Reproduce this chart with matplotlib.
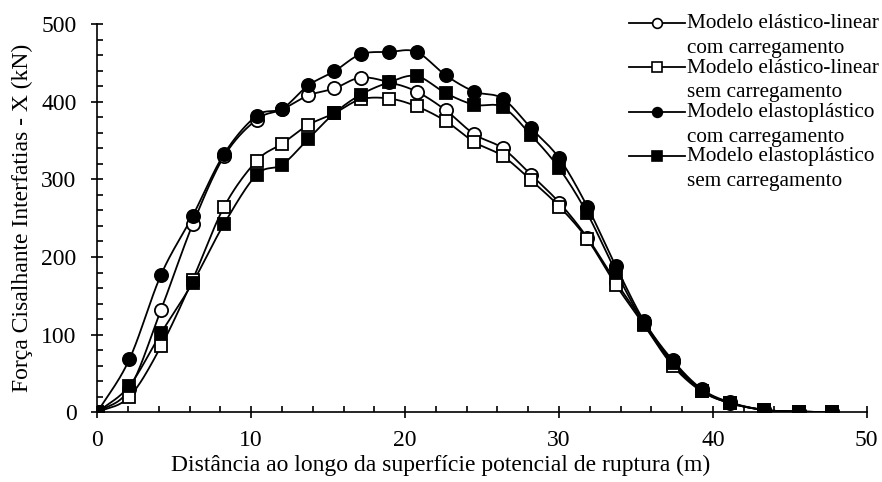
import numpy as np
import matplotlib
matplotlib.use("Agg")
import matplotlib.pyplot as plt
from matplotlib.ticker import MultipleLocator
from matplotlib.lines import Line2D

# Slice positions along the potential failure surface (m)
distancia = [0.0, 2.08, 4.14, 6.2, 8.25, 10.36, 12.02, 13.71, 15.4, 17.11, 18.97,
             20.75, 22.64, 24.5, 26.34, 28.18, 30.02, 31.84, 33.7, 35.54, 37.39,
             39.27, 41.1, 43.35, 45.6, 47.75]

# Interslice shear force X (kN)
elastico_com = [0, 30, 132, 242, 330, 377, 390, 408, 417, 431, 425,
                413, 389, 358, 340, 306, 270, 225, 168, 115, 65,
                29, 12, 3, 1, 0]
elastico_sem = [0, 20, 85, 171, 265, 324, 346, 370, 385, 403, 404,
                394, 375, 348, 330, 299, 265, 223, 164, 112, 60,
                27, 12, 3, 1, 0]
elastoplastico_com = [0, 68, 177, 253, 333, 382, 391, 421, 439, 461, 464,
                      464, 434, 413, 404, 366, 327, 265, 188, 117, 67,
                      30, 13, 3, 1, 0]
elastoplastico_sem = [0, 34, 102, 167, 243, 306, 319, 352, 385, 409, 425,
                      433, 411, 396, 393, 357, 314, 256, 181, 114, 63,
                      28, 12, 3, 1, 0]

rotulos = [("Modelo elástico-linear", "com carregamento"),
           ("Modelo elástico-linear", "sem carregamento"),
           ("Modelo elastoplástico", "com carregamento"),
           ("Modelo elastoplástico", "sem carregamento")]

plt.rcParams["font.family"] = ["Liberation Serif", "DejaVu Serif"]


def suavizar(x, y, n=20):
    """Catmull-Rom curve through the points, for a smoothed line."""
    x = np.asarray(x, float)
    y = np.asarray(y, float)
    px = np.concatenate([[2 * x[0] - x[1]], x, [2 * x[-1] - x[-2]]])
    py = np.concatenate([[2 * y[0] - y[1]], y, [2 * y[-1] - y[-2]]])
    xs, ys = [], []
    t = np.linspace(0, 1, n, endpoint=False)
    for i in range(1, len(px) - 2):
        p0x, p1x, p2x, p3x = px[i - 1:i + 3]
        p0y, p1y, p2y, p3y = py[i - 1:i + 3]
        for a0, a1, a2, a3, out in ((p0x, p1x, p2x, p3x, xs), (p0y, p1y, p2y, p3y, ys)):
            out.extend(0.5 * ((2 * a1) + (-a0 + a2) * t +
                              (2 * a0 - 5 * a1 + 4 * a2 - a3) * t ** 2 +
                              (-a0 + 3 * a1 - 3 * a2 + a3) * t ** 3))
    xs.append(x[-1])
    ys.append(y[-1])
    return np.array(xs), np.array(ys)


W, H = 882, 482
fig = plt.figure(figsize=(W / 100, H / 100), dpi=100)
ax = fig.add_axes([0.1103, 0.1446, 0.8724, 0.8056])

series = [
    (elastico_com, "o", "white"),
    (elastico_sem, "s", "white"),
    (elastoplastico_com, "o", "black"),
    (elastoplastico_sem, "s", "black"),
]

lw = 1.3
for valores, marcador, preench in series:
    sx, sy = suavizar(distancia, valores)
    ax.plot(sx, sy, color="black", lw=lw, zorder=2)
    ax.plot(distancia, valores, linestyle="none", marker=marcador,
            markersize=9.5 if marcador == "o" else 9.0,
            markerfacecolor=preench, markeredgecolor="black",
            markeredgewidth=1.3, zorder=3)

ax.set_xlim(0, 50)
ax.set_ylim(0, 500)
ax.xaxis.set_major_locator(MultipleLocator(10))
ax.xaxis.set_minor_locator(MultipleLocator(2))
ax.yaxis.set_major_locator(MultipleLocator(100))
ax.yaxis.set_minor_locator(MultipleLocator(20))

for lado in ("top", "right"):
    ax.spines[lado].set_visible(False)
for lado in ("left", "bottom"):
    ax.spines[lado].set_linewidth(1.2)

ax.tick_params(which="major", direction="inout", length=8, width=1.2,
               labelsize=17, pad=9)
ax.tick_params(which="minor", direction="in", length=4, width=1.2)
ax.tick_params(axis="y", which="major", pad=11)

ax.set_xlabel("Distância ao longo da superfície potencial de ruptura (m)",
              fontsize=17, labelpad=0)
ax.xaxis.set_label_coords(0.4467, -0.11)
ax.set_ylabel("Força Cisalhante Interfatias - X (kN)", fontsize=17, labelpad=6)


# Legend: handle on the first text line, second line below it
def fx(px):
    return px / W


def fy(py):
    return 1 - py / H


for i, ((linha1, linha2), (_, marcador, preench)) in enumerate(zip(rotulos, series)):
    y_handle = 22.7 + 44.4 * i
    y_base = 28.3 + 44.4 * i
    fig.add_artist(Line2D([fx(629), fx(685)], [fy(y_handle)] * 2,
                          transform=fig.transFigure, color="black", lw=lw))
    fig.add_artist(Line2D([fx(657)], [fy(y_handle)], transform=fig.transFigure,
                          linestyle="none", marker=marcador,
                          markersize=7 if marcador == "o" else 6.5,
                          markerfacecolor=preench, markeredgecolor="black",
                          markeredgewidth=1.2))
    fig.text(fx(687), fy(y_base), linha1, fontsize=15.3, va="baseline", ha="left")
    fig.text(fx(687), fy(y_base + 24.7), linha2, fontsize=15.3, va="baseline", ha="left")

fig.savefig("out.png", dpi=100, facecolor="white")
